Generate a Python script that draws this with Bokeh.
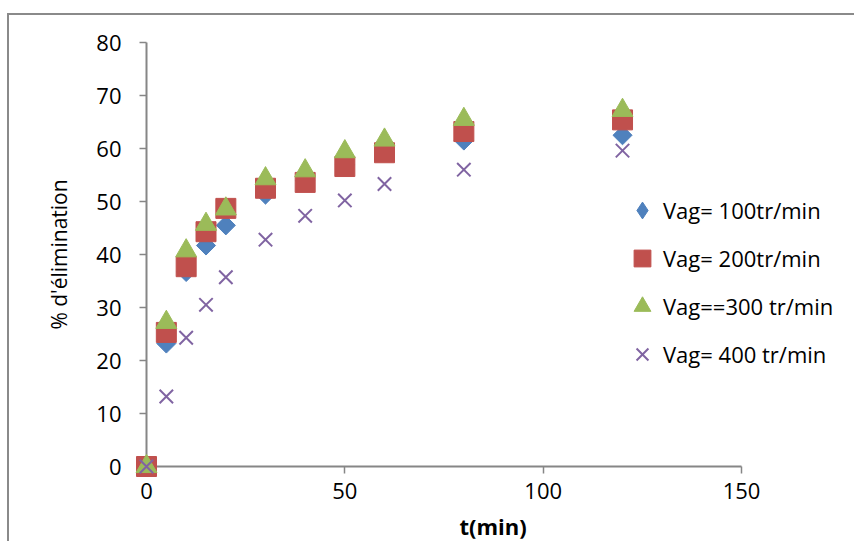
from bokeh.plotting import figure
from bokeh.models import Range1d, FixedTicker, Legend, LegendItem
from bokeh.embed import file_html
from bokeh.resources import INLINE

# ---- data ----
t_min = [0, 5, 10, 15, 20, 30, 40, 50, 60, 80, 120]
vag_100 = [0, 23.2, 36.7, 41.7, 45.5, 51.3, 53.9, 56.9, 59.5, 61.5, 62.5]
vag_200 = [0, 25.3, 37.7, 44.3, 48.7, 52.5, 53.6, 56.6, 59.2, 63.2, 65.4]
vag_300 = [0, 27.2, 40.7, 45.7, 48.6, 54.3, 55.8, 59.4, 61.6, 65.5, 67.2]
vag_400 = [0, 13.2, 24.3, 30.5, 35.7, 42.8, 47.3, 50.2, 53.3, 56.0, 59.6]

series_names = ["Vag= 100tr/min", "Vag= 200tr/min", "Vag==300 tr/min", "Vag= 400 tr/min"]
x_ticks = [0, 50, 100, 150]
y_ticks = [0, 10, 20, 30, 40, 50, 60, 70, 80]
x_title = "t(min)"
y_title = "% d'élimination"

FONT = "Open Sans"
AXIS_GRAY = "#868686"

# frame extends to the right past x=150 so the legend is not clipped;
# the axis itself is bounded to 0..150
p = figure(width=847, height=528,
           x_range=Range1d(0, 174.7), y_range=Range1d(0, 80),
           output_backend="svg", toolbar_location=None,
           min_border_left=137, min_border_right=17,
           min_border_top=27, min_border_bottom=77)
p.styles = {"margin-left": "7px", "margin-top": "13px",
            "border-left": "2px solid #8a8a8a", "border-top": "2px solid #8a8a8a"}
p.outline_line_color = None
p.xgrid.grid_line_color = None
p.ygrid.grid_line_color = None
p.background_fill_color = "white"
p.border_fill_color = "white"

for ax in (p.xaxis[0], p.yaxis[0]):
    ax.axis_line_color = AXIS_GRAY
    ax.axis_line_width = 2
    ax.major_tick_line_color = AXIS_GRAY
    ax.major_tick_line_width = 1.5
    ax.major_tick_in = 0
    ax.major_tick_out = 7
    ax.minor_tick_line_color = None
    ax.major_label_text_font = FONT
    ax.major_label_text_font_size = "22px"
    ax.major_label_text_color = "black"
    ax.axis_label_text_font = FONT
    ax.axis_label_text_color = "black"

p.xaxis.bounds = (0, 150)
p.yaxis.bounds = (0, 80)
p.xaxis.ticker = FixedTicker(ticks=x_ticks)
p.yaxis.ticker = FixedTicker(ticks=y_ticks)
p.xaxis.major_label_standoff = 9
p.yaxis.major_label_standoff = 18
p.xaxis.axis_label = x_title
p.xaxis.axis_label_text_font_style = "bold"
p.xaxis.axis_label_text_font_size = "22px"
p.xaxis.axis_label_standoff = 9
p.yaxis.axis_label = y_title
p.yaxis.axis_label_text_font_style = "normal"
p.yaxis.axis_label_text_font_size = "21px"
p.yaxis.axis_label_standoff = 20

BLUE, RED, GREEN, PURPLE = "#4F81BD", "#C0504D", "#9BBB59", "#8064A2"

# legend swatch for the diamond series (legend glyphs are never rotated);
# drawn tiny at the first point, hidden beneath the other markers
r1_key = p.scatter(t_min[:1], vag_100[:1], marker="diamond", size=1,
                   fill_color=BLUE, line_color=BLUE)
r1 = p.scatter(t_min, vag_100, marker="square", angle=0.785398, size=13.5,
               fill_color=BLUE, line_color=BLUE, level="overlay")
r2 = p.scatter(t_min, vag_200, marker="square", size=20,
               fill_color=RED, line_color=RED, level="overlay")
r3 = p.scatter(t_min, vag_300, marker="triangle", size=21,
               fill_color=GREEN, line_color=GREEN, level="overlay")
r4 = p.scatter(t_min, vag_400, marker="x", size=19,
               line_color=PURPLE, line_width=2, level="overlay")

legend = Legend(items=[LegendItem(label=n, renderers=[r]) for n, r in
                       zip(series_names, [r1_key, r2, r3, r4])],
                location=(475, 91))
legend.glyph_width = 42
legend.glyph_height = 42
legend.spacing = 6
legend.padding = 0
legend.margin = 0
legend.label_standoff = -7
legend.label_text_font = FONT
legend.label_text_font_size = "22px"
legend.label_text_color = "black"
legend.border_line_color = None
legend.background_fill_alpha = 0
p.add_layout(legend, "center")

open("out.html", "w").write(file_html(p, INLINE))
